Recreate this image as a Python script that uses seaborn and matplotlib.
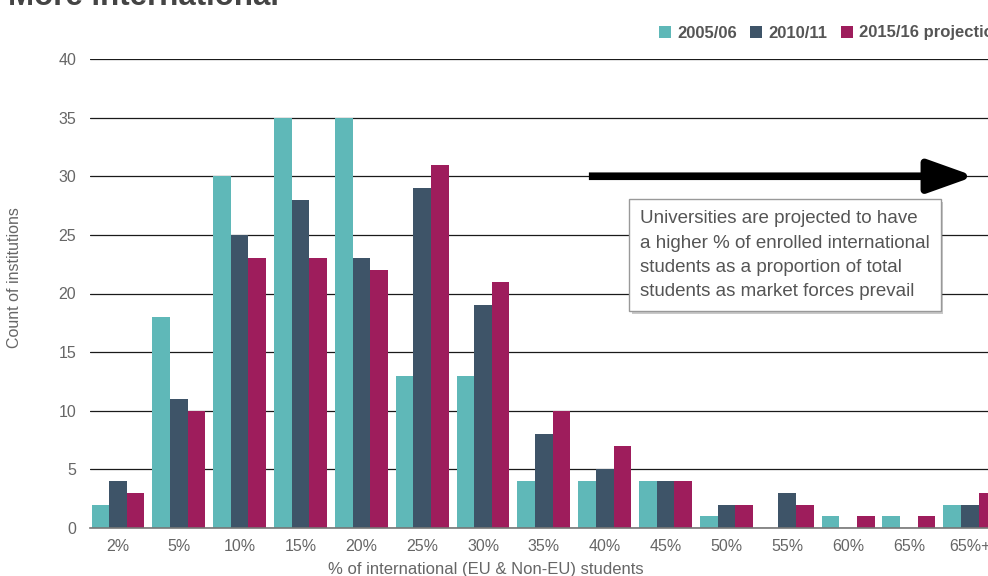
import matplotlib
matplotlib.use("Agg")
import matplotlib.pyplot as plt
import matplotlib.patheffects as pe
import seaborn as sns
import pandas as pd
import numpy as np

# data
bands = ['2%', '5%', '10%', '15%', '20%', '25%', '30%', '35%', '40%',
         '45%', '50%', '55%', '60%', '65%', '65%+']
y2005 = [2, 18, 30, 35, 35, 13, 13, 4, 4, 4, 1, 0, 1, 1, 2]
y2010 = [4, 11, 25, 28, 23, 29, 19, 8, 5, 4, 2, 3, 0, 0, 2]
y2015 = [3, 10, 23, 23, 22, 31, 21, 10, 7, 4, 2, 2, 1, 1, 3]
series = ['2005/06', '2010/11', '2015/16 projection']
colors = ['#5fb8b8', '#3e5468', '#9e1d5c']

df = pd.DataFrame({'band': bands * 3,
                   'year': np.repeat(series, len(bands)),
                   'count': y2005 + y2010 + y2015})

sns.set_style('white')
plt.rcParams['font.family'] = ['Liberation Sans', 'DejaVu Sans']
grey = '#666666'

fig = plt.figure(figsize=(9.88, 5.76), dpi=100)
ax = fig.add_axes([90/988, 1-528/576, 898/988, (528-59)/576])

sns.barplot(data=df, x='band', y='count', hue='year', palette=colors,
            width=0.87, saturation=1, linewidth=0, ax=ax, zorder=3)

ax.set_ylim(0, 40)
ax.set_xlim(-0.46, 14.3)
ax.set_yticks(range(0, 41, 5))
ax.yaxis.grid(True, color='#1a1a1a', linewidth=0.9, zorder=0)
ax.set_axisbelow(True)
for s in ['left', 'right', 'top']:
    ax.spines[s].set_visible(False)
ax.spines['bottom'].set_color('#777777')
ax.spines['bottom'].set_linewidth(1.2)
ax.spines['bottom'].set_zorder(4)
ax.tick_params(axis='both', length=0, labelsize=11.5, labelcolor=grey)
ax.tick_params(axis='y', pad=10)
ax.tick_params(axis='x', pad=8)

ax.set_xlabel('% of international (EU & Non-EU) students', fontsize=12, color=grey)
ax.xaxis.set_label_coords(0.441, -0.073)
ax.set_ylabel('Count of institutions', fontsize=11.5, color=grey)
ax.yaxis.set_label_coords(-0.0757, 0.535)

# legend along the top edge
handles, labels = ax.get_legend_handles_labels()
ax.legend(handles, labels, loc='center left', bbox_to_anchor=(659/988, 1-33/576),
          bbox_transform=fig.transFigure, ncol=3, frameon=False,
          handlelength=0.7, handleheight=0.7, handletextpad=0.4,
          columnspacing=0.8, prop={'weight': 'bold', 'size': 12},
          labelcolor='#555555', borderaxespad=0, borderpad=0)

# arrow and note
ax.annotate('', xy=(14.08, 30), xytext=(7.74, 30),
            arrowprops=dict(arrowstyle='-|>,head_length=1.4,head_width=0.5',
                            mutation_scale=20, lw=5.5, color='black',
                            shrinkA=0, shrinkB=0, capstyle='butt'), zorder=5)

note = ax.text(8.58, 27.1,
               'Universities are projected to have\n'
               'a higher % of enrolled international\n'
               'students as a proportion of total\n'
               'students as market forces prevail',
               ha='left', va='top', fontsize=13.5, color='#555555', linespacing=1.56,
               bbox=dict(boxstyle='square,pad=0.58', facecolor='white',
                         edgecolor='#999999', linewidth=1), zorder=6)
note.get_bbox_patch().set_path_effects([pe.withSimplePatchShadow(offset=(2, -2), alpha=0.3)])

fig.text(8/988, 1-5/576, 'More international', fontsize=22.5, weight='bold',
         color='#444444', ha='left', va='baseline')

fig.savefig('out.png', dpi=100)
